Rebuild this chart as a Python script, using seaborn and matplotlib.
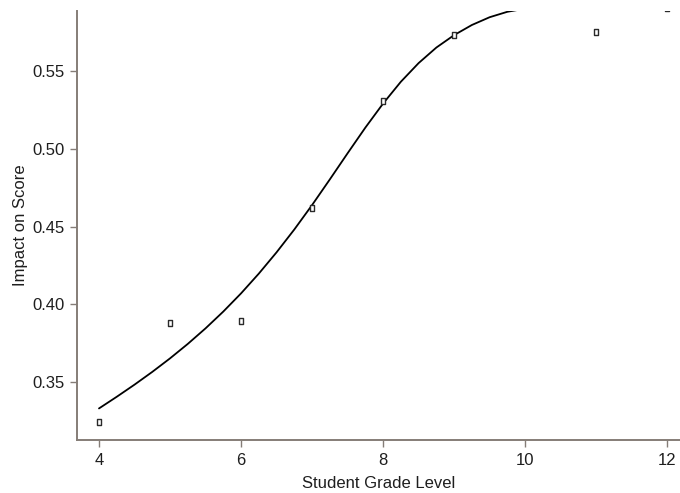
import matplotlib
matplotlib.use("Agg")
import matplotlib.pyplot as plt
import seaborn as sns
import pandas as pd
from matplotlib.path import Path

# observed points
grade = [4, 5, 6, 7, 8, 9, 11, 12]
impact = [0.324, 0.388, 0.389, 0.462, 0.531, 0.573, 0.575, 0.5905]

# fitted curve
curve_grade = [4.0, 4.25, 4.5, 4.75, 5.0, 5.25, 5.5, 5.75, 6.0, 6.25, 6.5, 6.75,
               7.0, 7.25, 7.5, 7.75, 8.0, 8.25, 8.5, 8.75, 9.0, 9.25, 9.5, 9.75, 10.0]
curve_impact = [0.3330, 0.3405, 0.3483, 0.3565, 0.3652, 0.3745, 0.3845, 0.3953,
                0.4070, 0.4197, 0.4334, 0.4481, 0.4638, 0.4803, 0.4971, 0.5136,
                0.5291, 0.5431, 0.5551, 0.5651, 0.5731, 0.5796, 0.5846, 0.5881,
                0.5901]

x_ticks = [4, 6, 8, 10, 12]
y_ticks = [0.35, 0.40, 0.45, 0.50, 0.55]

AXIS_COLOR = "#857d77"
TEXT_COLOR = "#1e1e1e"

sns.set_style("ticks")
plt.rcParams["font.family"] = ["Liberation Sans", "DejaVu Sans"]

points = pd.DataFrame({"grade": grade, "impact": impact})
curve = pd.DataFrame({"grade": curve_grade, "impact": curve_impact})

fig = plt.figure(figsize=(6.8, 4.93), dpi=100)
ax = fig.add_axes([0.1132, 0.1075, 0.8868, 0.8702])

sns.lineplot(data=curve, x="grade", y="impact", color="black", linewidth=1.3,
             ax=ax, sort=True, solid_joinstyle="round")

# tall thin hollow rectangle marker
rect = Path([(-0.55, -1), (0.55, -1), (0.55, 1), (-0.55, 1), (-0.55, -1)],
            [Path.MOVETO, Path.LINETO, Path.LINETO, Path.LINETO, Path.CLOSEPOLY])
sns.scatterplot(data=points, x="grade", y="impact", marker=rect, s=22,
                facecolor="white", edgecolor="#2a2a2a", linewidth=1.0, ax=ax,
                zorder=3)

ax.set_xlim(3.69, 12.18)
ax.set_ylim(0.3127, 0.5886)
ax.set_xticks(x_ticks)
ax.set_yticks(y_ticks)
ax.set_yticklabels([f"{v:.2f}" for v in y_ticks])

for side in ["top", "right"]:
    ax.spines[side].set_visible(False)
for side in ["left", "bottom"]:
    ax.spines[side].set_color(AXIS_COLOR)
    ax.spines[side].set_linewidth(1.4)

ax.tick_params(axis="both", direction="out", length=5, width=1.0,
               color=AXIS_COLOR, labelcolor=TEXT_COLOR, labelsize=12, pad=4)

ax.set_xlabel("Student Grade Level", fontsize=12, color=TEXT_COLOR, labelpad=6)
ax.set_ylabel("Impact on Score", fontsize=12, color=TEXT_COLOR, labelpad=3)

fig.savefig("out.png", dpi=100)
